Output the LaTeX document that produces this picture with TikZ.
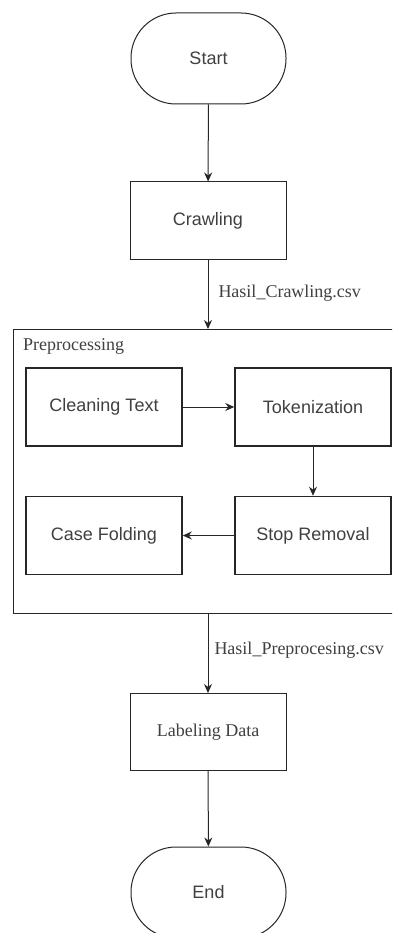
\documentclass[tikz,border=0pt]{standalone}
\usepackage{fontspec}
\setmainfont{Liberation Serif}
\newfontfamily\arialfont{Liberation Sans}
\usetikzlibrary{arrows.meta,positioning}
\begin{document}
\begin{tikzpicture}[x=1pt,y=-1pt,
  base/.style={draw=black!85, line width=1pt, text=black!75, font=\arialfont\fontsize{18}{20}\selectfont, align=center, inner sep=0pt},
  term/.style={base, minimum width=155pt, minimum height=91pt, rounded corners=45pt},
  proc/.style={base, minimum width=156pt, minimum height=77pt},
  serifproc/.style={proc, font=\fontsize{18}{20}\selectfont},
  sketch/.style={base, line width=1.5pt, minimum width=156pt, minimum height=78pt},
  lbl/.style={text=black!75, font=\fontsize{18}{20}\selectfont, inner sep=0pt},
  arr/.style={draw=black!85, line width=1pt, -{Stealth[length=9pt,width=8pt]}}
]
\clip (0,0) rectangle (392,933);
\fill[white] (0,0) rectangle (392,933);

\node[term] (start) at (208.5,58.5) {Start};
\node[proc] (crawl) at (208,220.5) {Crawling};
\draw[draw=black!85, line width=1pt] (13,329) rectangle (402,613);
\coordinate (ptop) at (208,329);
\coordinate (pbot) at (208,613);
\node[lbl, anchor=west] (ptitle) at (23,346) {Preprocessing};
\node[sketch] (clean) at (104,407) {Cleaning Text};
\node[sketch] (token) at (313,407) {Tokenization};
\node[sketch] (stop) at (313,535.5) {Stop Removal};
\node[sketch] (case) at (104,535.5) {Case Folding};
\node[serifproc] (label) at (208,732) {Labeling Data};
\node[term] (end) at (208.5,892.5) {End};

\draw[arr] (start) -- (crawl);
\draw[arr] (crawl) -- node[lbl, anchor=west, xshift=10pt, pos=0.48] (l1) {Hasil\_Crawling.csv} (ptop);
\draw[arr] (clean) -- (token);
\draw[arr] (token) -- (stop);
\draw[arr] (stop) -- (case);
\draw[arr] (pbot) -- node[lbl, anchor=west, xshift=6pt, pos=0.46] (l2) {Hasil\_Preprocesing.csv} (label);
\draw[arr] (label) -- (end);
\end{tikzpicture}
\end{document}
